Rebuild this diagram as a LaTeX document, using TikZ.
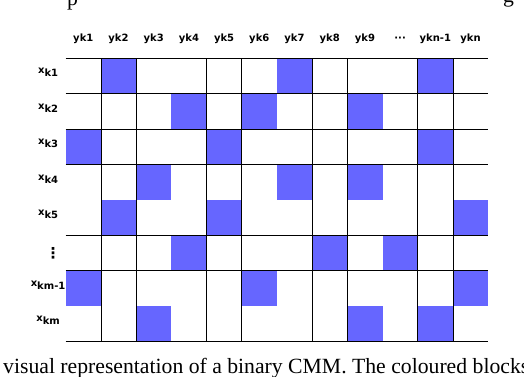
\documentclass[tikz,border=0pt]{standalone}
\usepackage{fontspec}
\setmainfont{Liberation Serif}
\setsansfont{DejaVu Sans}
\usepackage{xcolor}
\usepackage{tikz}
\definecolor{cellblue}{RGB}{102,102,255}
\tikzset{
  collab/.style={font=\sffamily\bfseries\fontsize{10}{11}\selectfont,anchor=base},
  rowlab/.style={font=\sffamily\bfseries\fontsize{10}{11}\selectfont,anchor=base},
  gridline/.style={line width=0.8pt},
  captext/.style={font=\fontsize{21.7}{24}\selectfont,anchor=base west,inner sep=0pt}
}

\begin{document}
\begin{tikzpicture}[x=35.2pt,y=35.4pt]
\useasboundingbox (-65.7pt,-317.7pt) rectangle (458.3pt,58.3pt);
\foreach \c/\r in {2/1,7/1,11/1,4/2,6/2,9/2,1/3,5/3,11/3,3/4,7/4,9/4,2/5,5/5,12/5,4/6,8/6,10/6,1/7,6/7,12/7,3/8,9/8,11/8} { \fill[cellblue] (\c-1,-\r+1) rectangle (\c,-\r); }
\foreach \r in {0,1,2,3,5,6,8} { \draw[gridline] (0,-\r) -- (12,-\r); }
\foreach \c in {1,2,4,5,7,8,10,11} { \draw[gridline] (\c,0) -- (\c,-8); }
\foreach \lab [count=\i] in {yk1,yk2,yk3,yk4,yk5,yk6,yk7,yk8,yk9,\textperiodcentered\textperiodcentered\textperiodcentered,ykn-1,ykn} { \node[collab] (y\i) at (\i-0.5,0.48) {\lab}; }
\foreach \sub/\r in {k1/1,k2/2,k3/3,k4/4,k5/5,km-1/7,km/8} { \node[rowlab] (x\r) at (-0.5,-\r+0.56) {x\raisebox{-3pt}{\sub}}; }
\node[rowlab,anchor=center,inner sep=0pt,font=\sffamily\bfseries\fontsize{15}{15}\selectfont] (x6) at (-0.36,-5.5) {⋮};
\node[captext] (cap) at (-62.7pt,-315pt) {visual representation of a binary CMM. The coloured blocks};
\node[captext] (fragp) at (1.3pt,53.3pt) {p};
\node[captext] (fragg) at (437.3pt,56pt) {g};
\end{tikzpicture}
\end{document}
